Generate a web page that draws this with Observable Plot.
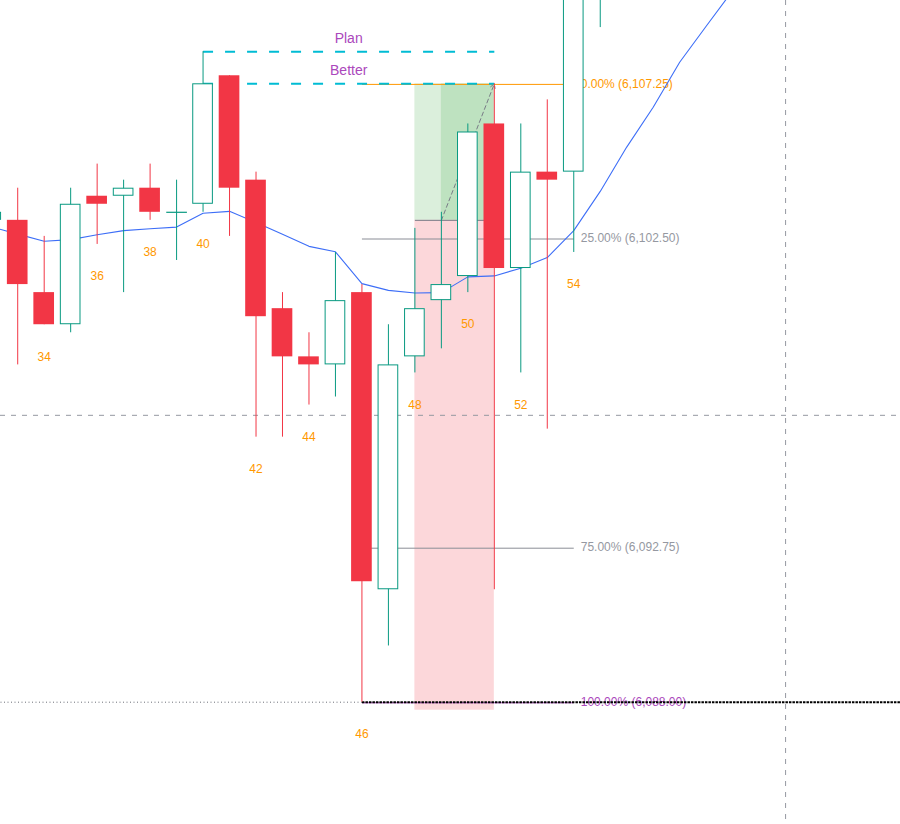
<!DOCTYPE html>
<html><head><meta charset="utf-8">
<script src="https://cdn.jsdelivr.net/npm/d3@7"></script>
<script src="https://cdn.jsdelivr.net/npm/@observablehq/plot@0.6"></script>
<style>
html,body{margin:0;padding:0;background:#fff;}
#chart{width:900px;height:824px;overflow:hidden;}
</style></head><body><div id="chart"></div>
<script>
// ---- candle data (bar index, OHLC) ----
const bars   = [32,33,34,35,36,37,38,39,40,41,42,43,44,45,46,47,48,49,50,51,52,53,54,55,56,57,58,59];
const opens  = [6103.00,6103.00,6100.75,6099.75,6103.75,6103.75,6104.00,6103.25,6103.50,6107.50,6104.25,6100.25,6098.75,6098.50,6100.75,6091.50,6098.75,6100.50,6101.25,6106.00,6101.50,6104.50,6104.50,6110.75,6115.50,6118.50,6118.25,6121.25];
const highs  = [6104.50,6104.00,6102.50,6104.00,6104.75,6104.25,6104.75,6104.25,6108.25,6107.50,6104.50,6100.75,6099.50,6102.00,6101.00,6099.75,6102.75,6103.25,6106.00,6107.25,6106.00,6106.75,6111.25,6116.00,6119.00,6120.00,6121.75,6122.00];
const lows   = [6102.25,6098.50,6099.75,6099.50,6102.25,6100.75,6103.00,6101.75,6103.25,6102.50,6096.25,6096.25,6097.25,6097.50,6088.00,6089.75,6098.25,6099.00,6100.75,6091.50,6098.25,6096.50,6102.00,6109.00,6114.25,6116.75,6117.50,6119.00];
const closes = [6103.25,6101.00,6099.75,6103.50,6103.50,6104.00,6103.25,6103.25,6107.25,6104.00,6100.00,6098.75,6098.50,6100.50,6091.75,6098.50,6100.25,6101.00,6105.75,6101.50,6104.50,6104.25,6110.75,6115.50,6118.50,6118.25,6121.25,6119.75];

// ---- moving average ----
const maBars   = [32,33,34,35,36,37,38,39,40,41,42,43,44,45,46,47,48,49,50,51,52,53,54,55,56,57,58,59,60];
const maValues = [6102.80,6102.57,6102.35,6102.40,6102.55,6102.68,6102.74,6102.79,6103.22,6103.28,6102.93,6102.57,6102.19,6102.02,6101.03,6100.82,6100.74,6100.75,6101.24,6101.27,6101.51,6101.84,6102.68,6103.90,6105.28,6106.52,6107.92,6109.04,6110.15];

// ---- bar number labels ----
const labelBars = [34,36,38,40,42,44,46,48,50,52,54];

// ---- long position tool ----
const posStartBar = 48, posFillBar = 49, posEndBar = 51;
const entryPrice = 6103.00, targetPrice = 6107.25, stopPrice = 6087.75;

// ---- Plan / Better lines ----
const planNames  = ["Plan", "Better"];
const planPrices = [6108.25, 6107.25];
const planStartBar = 40, planEndBar = 51;

// ---- Fibonacci ----
const fibHigh = 6107.25, fibLow = 6088.00;
const fibStartBar = 46, fibEndBar = 54;
const fibLevels = [0, 0.25, 0.75, 1];

// ---- crosshair ----
const crossBar = 62.0, crossPrice = 6096.93;

// view window
const xDomain = [32.35, 66.34];
const yDomain = [6084.193, 6109.843];

const GREEN = "#089981", RED = "#F23645";
const HW = 0.39;
const FONT = "Liberation Sans, Arial, sans-serif";

const data = bars.map((b,k)=>({bar:b, open:opens[k], high:highs[k], low:lows[k], close:closes[k]}));
const up = data.filter(d=>d.close>d.open);
const down = data.filter(d=>d.close<d.open);
const doji = data.filter(d=>d.close===d.open);
const ma = maBars.map((b,k)=>({bar:b, v:maValues[k]}));
const labels = labelBars.map(b=>{const d=data.find(e=>e.bar===b); return {bar:b, low:d.low, text:String(b)};});

const profitRects = [
  {x1:posStartBar, x2:posEndBar, y1:entryPrice, y2:targetPrice},
  {x1:posFillBar, x2:posEndBar, y1:entryPrice, y2:targetPrice}
];
const lossRects = [{x1:posStartBar, x2:posEndBar, y1:stopPrice, y2:entryPrice}];
const entryLine = [{x1:posStartBar, x2:posEndBar, y:entryPrice}];
const pathArrow = [{x1:posFillBar, y1:entryPrice, x2:posEndBar, y2:targetPrice}];

const planData = planNames.map((n,k)=>({name:n, price:planPrices[k], x1:planStartBar, x2:planEndBar, xm:(planStartBar+planEndBar)/2}));

const roundTick = p => Math.round(p*4)/4;
const fmt = d3.format(",.2f");
const fib = fibLevels.map(L=>{
  const p = fibHigh - L*(fibHigh-fibLow);
  return {level:L, price:p, x1:fibStartBar, x2:fibEndBar, text:`${(L*100).toFixed(2)}% (${fmt(roundTick(p))})`};
});
const fibColor = L => L===0 ? "#FF9800" : (L===1 ? "#AB47BC" : "#9598A1");
const fibLineColor = L => L===0 ? "#FF9800" : (L===1 ? "#AB47BC" : "#8A8D96");

const lowLeft  = [{x1:xDomain[0], x2:fibStartBar, y:fibLow}];
const lowRight = [{x1:fibStartBar, x2:xDomain[1], y:fibLow}];

const chart = Plot.plot({
  width: 900, height: 824, margin: 0,
  style: {background:"#fff", fontFamily: FONT},
  x: {domain: xDomain, axis: null},
  y: {domain: yDomain, axis: null},
  marks: [
    // position tool
    Plot.rect(profitRects, {x1:"x1", x2:"x2", y1:"y1", y2:"y2", fill:"rgb(76,175,80)", fillOpacity:0.2}),
    Plot.rect(lossRects, {x1:"x1", x2:"x2", y1:"y1", y2:"y2", fill:"rgb(242,54,69)", fillOpacity:0.2}),
    Plot.link(entryLine, {x1:"x1", x2:"x2", y1:"y", y2:"y", stroke:"#787B86", strokeWidth:1}),
    Plot.arrow(pathArrow, {x1:"x1", y1:"y1", x2:"x2", y2:"y2", stroke:"#787B86", strokeWidth:1, strokeDasharray:"4,3", headLength:7, bend:0}),
    // crosshair
    Plot.ruleY([crossPrice], {stroke:"#9598A1", strokeWidth:1, strokeDasharray:"5,6"}),
    Plot.ruleX([crossBar], {stroke:"#9598A1", strokeWidth:1, strokeDasharray:"5,6"}),
    // fib lines and text
    Plot.link(fib, {x1:"x1", x2:"x2", y1:"price", y2:"price", stroke:d=>fibLineColor(d.level), strokeWidth:1, dy:0.6}),
    Plot.text(fib, {x:"x2", y:"price", text:"text", dx:7, textAnchor:"start", lineAnchor:"middle", fill:d=>fibColor(d.level), fontSize:12}),
    // low lines
    Plot.link(lowLeft, {x1:"x1", x2:"x2", y1:"y", y2:"y", stroke:"#6A6D76", strokeWidth:1, strokeDasharray:"1,2.5"}),
    Plot.link(lowRight, {x1:"x1", x2:"x2", y1:"y", y2:"y", stroke:"#000", strokeWidth:2, strokeDasharray:"2.5,1"}),
    // plan lines
    Plot.link(planData, {x1:"x1", x2:"x2", y1:"price", y2:"price", stroke:"#00BCD4", strokeWidth:2, strokeDasharray:"10,12"}),
    Plot.text(planData, {x:"xm", y:"price", text:"name", dy:-13, fill:"#AB47BC", fontSize:14, textAnchor:"middle", lineAnchor:"middle"}),
    // moving average
    Plot.line(ma, {x:"bar", y:"v", stroke:"#3D6EF7", strokeWidth:1.1, clip:true}),
    // wicks
    Plot.ruleX(data, {x:"bar", y1:"low", y2:"high", stroke:d=>d.close>=d.open?GREEN:RED, strokeWidth:1, clip:true}),
    // bodies
    Plot.rect(up, {x1:d=>d.bar-HW, x2:d=>d.bar+HW, y1:"open", y2:"close", fill:"#fff", stroke:GREEN, strokeWidth:1, inset:0.5, clip:true}),
    Plot.rect(down, {x1:d=>d.bar-HW, x2:d=>d.bar+HW, y1:"open", y2:"close", fill:RED, clip:true}),
    Plot.link(doji, {x1:d=>d.bar-HW, x2:d=>d.bar+HW, y1:"open", y2:"open", stroke:GREEN, strokeWidth:1.2, clip:true}),
    // bar labels
    Plot.text(labels, {x:"bar", y:"low", text:"text", dy:32, fill:"#FF9800", fontSize:12, lineAnchor:"middle"})
  ]
});
document.getElementById("chart").appendChild(chart);
</script>
</body></html>
